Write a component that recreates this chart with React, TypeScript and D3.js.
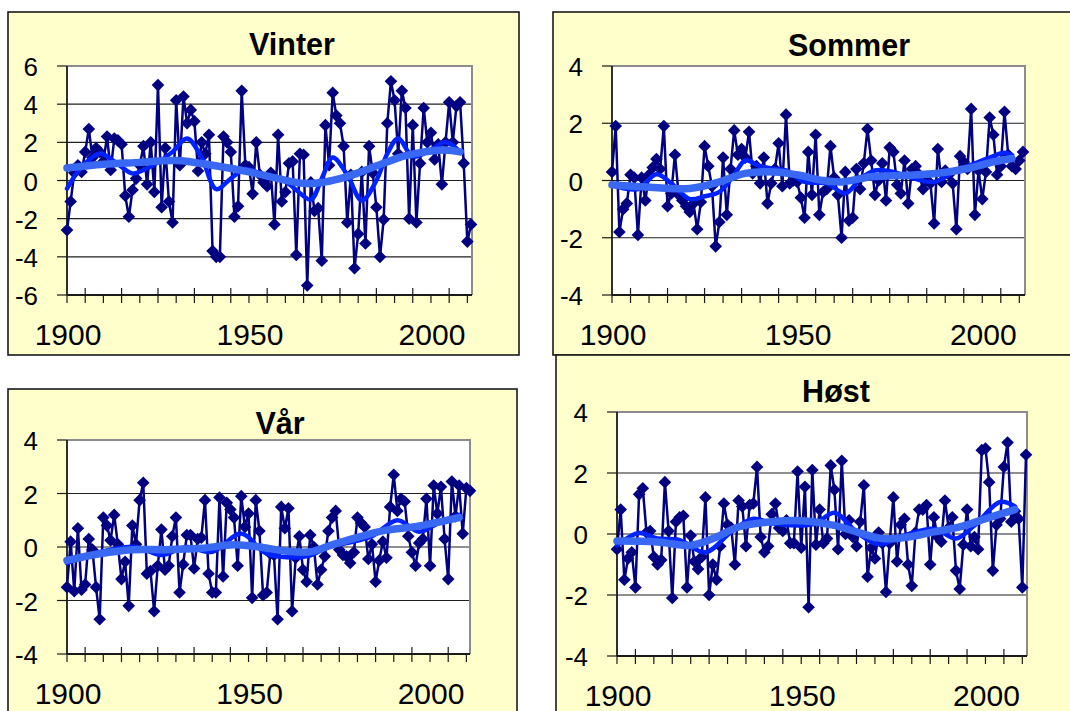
import React from 'react';
import * as d3 from 'd3';

// Seasonal temperature anomalies (°C), one value per year 1900–2011
const YEARS = d3.range(1900, 2012);

const vinter = [
  -2.6, -1.1, 0.4, 0.8, 0.45, 1.5, 2.7, 1.2, 1.7, 1.5,
  1.0, 2.3, 0.55, 2.2, 2.1, 1.9, -0.8, -1.9, -0.5, 0.1,
  0.8, 1.8, -0.2, 2.0, -0.6, 5.0, -1.4, 1.7, -1.1, -2.2,
  4.2, 0.8, 4.4, 3.0, 3.7, 3.1, 0.5, 2.0, 1.4, 2.4,
  -3.7, -4.0, -4.0, 2.3, 2.0, 1.5, -1.9, -1.35, 4.7, 0.8,
  0.7, -0.7, 2.0, 0.3, -0.1, -0.3, 0.4, -2.3, 2.4, -1.1,
  -0.6, 0.9, 1.0, -3.9, 1.4, 1.35, -5.5, -0.1, -1.6, -1.45,
  -4.2, 2.9, 0.8, 4.6, 3.4, 3.0, 1.8, -2.2, 0.3, -4.6,
  -2.8, 0.45, -3.3, 1.8, 0.4, -1.4, -4.0, -2.05, 3.0, 5.2,
  4.2, 1.4, 4.7, 3.8, -2.0, 2.9, -2.2, 0.9, 3.8, 2.0,
  2.5, 1.1, 1.9, -0.2, 2.0, 4.1, 2.0, 3.9, 4.1, 0.9,
  -3.2, -2.3,
];

const sommer = [
  0.3, 1.9, -1.8, -1.0, -0.8, 0.2, 0.1, -1.9, 0.1, -0.7,
  0.2, 0.45, 0.75, 0.4, 1.9, -0.9, -0.45, 0.9, -0.5, -0.7,
  -0.9, -1.1, -0.8, -1.7, -0.75, 1.2, 0.5, -0.2, -2.3, -1.45,
  0.8, -1.2, 0.4, 1.75, 0.9, 1.1, 0.8, 1.7, 0.25, 0.5,
  -0.1, 0.8, -0.8, -0.1, 0.4, 1.3, -0.2, 2.3, -0.1, 0.0,
  -0.05, -0.6, -1.3, 1.0, -0.5, 1.6, -1.2, -0.4, -0.3, 1.2,
  0.1, -0.5, -2.0, 0.3, -1.4, -1.3, 0.4, -0.3, 0.6, 1.8,
  0.7, -0.5, 0.0, 0.6, -0.7, 1.15, 1.0, -0.15, -0.45, 0.7,
  -0.8, 0.4, 0.5, 0.2, -0.3, 0.0, -0.1, -1.5, 1.1, -0.05,
  0.35, 0.2, -0.1, -1.7, 0.85, 0.65, 0.4, 2.5, -1.2, 0.35,
  -0.65, 0.3, 2.2, 1.6, 0.2, 0.5, 2.4, 0.9, 0.5, 0.4,
  0.7, 1.0,
];

const vaar = [
  -1.5, 0.2, -1.65, 0.7, -1.6, -1.4, 0.3, -0.1, -1.5, -2.7,
  1.1, 0.8, 0.25, 1.2, 0.1, -1.2, -0.55, -2.2, 0.8, 0.1,
  1.75, 2.4, -1.0, -0.9, -2.4, -0.7, 0.65, -0.85, -0.7, 0.4,
  1.1, -1.7, -0.65, 0.45, 0.45, -0.8, 0.3, 0.35, 1.75, -1.0,
  -1.7, -1.7, 1.85, -1.1, 1.65, 1.4, 1.1, -0.7, 1.9, 0.75,
  1.25, -1.9, 1.75, 0.6, -1.8, -1.7, -0.25, -0.3, -2.7, 1.5,
  0.7, 1.45, -2.4, -0.4, 0.4, -0.85, -1.3, 0.45, 0.0, -1.4,
  -0.85, -0.35, 0.6, 1.1, 1.35, -0.1, -0.3, -0.35, -0.6, -0.2,
  1.1, 0.9, 0.75, -0.45, 0.1, -1.3, -0.5, 0.2, -0.4, 1.5,
  2.7, 1.35, 1.8, 1.7, 0.4, -0.2, -0.7, 0.15, 0.3, 1.8,
  -0.7, 2.3, 1.25, 2.25, 0.3, -1.2, 2.45, 1.15, 2.3, 0.5,
  2.2, 2.1,
];

const hoest = [
  -0.5, 0.8, -1.5, -0.8, -0.6, -1.75, 1.3, 1.5, 0.05, 0.1,
  -0.75, -1.0, -0.85, 1.7, 0.1, -2.1, 0.4, 0.55, 0.6, -1.75,
  -0.05, -0.9, -1.15, -0.75, 1.2, -2.0, -1.0, -1.5, -0.4, 1.0,
  0.3, 0.2, -1.0, 1.1, 0.9, -0.4, 0.95, 1.0, 2.2, -0.1,
  -0.6, -0.4, 0.65, 1.0, 0.2, 0.1, 0.45, -0.3, -0.3, 2.05,
  -0.45, 1.55, -2.4, 2.1, -0.35, 0.8, -0.3, -0.15, 2.25, 1.45,
  -0.5, 2.4, 0.0, 0.45, -0.1, -0.4, 0.4, 1.6, -1.4, -0.45,
  -0.8, 0.05, -0.3, -1.9, -0.3, 1.2, -0.9, 0.3, 0.5, -1.0,
  -1.7, 0.05, 0.8, 0.8, 0.95, -1.0, 0.55, -0.1, -0.25, 1.1,
  0.2, 0.55, -1.2, -1.8, -0.35, 0.8, -0.4, -0.1, -0.5, 2.75,
  2.8, 1.7, -1.2, 0.3, 0.5, 2.2, 3.0, 0.4, 0.75, 0.5,
  -1.75, 2.6,
];

// Low-pass filtered curves: [year, value]
const vinterDecadal: [number, number][] = [
  [1900, -0.42], [1904, 0.7], [1909, 1.41], [1913, 1.0], [1918, 0.37], [1921, 0.55],
  [1925, 0.95], [1929, 1.5], [1933, 2.2], [1937, 1.2], [1941, -0.45], [1945, 0.1],
  [1949, 0.6], [1955, 0.2], [1960, -0.05], [1963, -0.5], [1967, -1.0], [1970, 0.1],
  [1973, 1.2], [1977, 0.3], [1981, -1.05], [1985, 0.0], [1988, 1.4], [1991, 2.2],
  [1995, 1.25], [1999, 1.5], [2004, 2.0], [2008, 1.5],
];
const vinterTrend: [number, number][] = [
  [1900, 0.65], [1910, 0.85], [1920, 0.95], [1930, 1.05], [1940, 0.8], [1950, 0.45],
  [1958, 0.1], [1965, -0.15], [1970, -0.1], [1975, 0.1], [1980, 0.4], [1987, 0.9],
  [1993, 1.3], [2000, 1.55], [2004, 1.6], [2008, 1.5],
];

const sommerDecadal: [number, number][] = [
  [1900, -0.15], [1907, -0.3], [1912, 0.22], [1916, -0.1], [1921, -0.65], [1925, -0.55],
  [1929, -0.4], [1933, 0.2], [1936, 0.7], [1940, 0.5], [1944, 0.4], [1947, 0.35],
  [1952, -0.05], [1958, -0.1], [1963, -0.45], [1967, 0.05], [1971, 0.35], [1976, 0.3],
  [1980, 0.13], [1987, -0.05], [1993, 0.35], [1998, 0.6], [2002, 0.8], [2006, 0.97],
  [2008, 0.88],
];
const sommerTrend: [number, number][] = [
  [1900, -0.15], [1908, -0.22], [1921, -0.28], [1929, -0.05], [1936, 0.25], [1944, 0.3],
  [1950, 0.2], [1957, 0.0], [1962, -0.05], [1970, 0.13], [1980, 0.18], [1988, 0.25],
  [1996, 0.42], [2003, 0.65], [2008, 0.77],
];

const vaarDecadal: [number, number][] = [
  [1900, -0.6], [1906, -0.3], [1912, -0.1], [1919, 0.0], [1926, -0.3], [1933, 0.0],
  [1940, -0.18], [1948, 0.5], [1955, -0.25], [1966, -0.35], [1972, 0.0], [1979, 0.2],
  [1984, 0.4], [1991, 1.0], [1997, 0.57], [2003, 0.95], [2008, 1.2],
];
const vaarTrend: [number, number][] = [
  [1900, -0.5], [1909, -0.25], [1918, -0.1], [1927, -0.1], [1937, -0.05], [1946, 0.08],
  [1953, 0.0], [1960, -0.15], [1967, -0.18], [1973, 0.08], [1981, 0.4], [1988, 0.63],
  [1996, 0.76], [2003, 0.95], [2008, 1.1],
];

const hoestDecadal: [number, number][] = [
  [1900, -0.37], [1906, 0.03], [1911, -0.15], [1917, -0.2], [1924, -0.6], [1931, 0.07],
  [1937, 0.5], [1942, 0.35], [1950, 0.28], [1954, 0.35], [1959, 0.7], [1965, 0.07],
  [1971, -0.34], [1978, -0.05], [1986, 0.17], [1992, -0.15], [1997, 0.28], [2004, 1.05],
  [2008, 0.9],
];
const hoestTrend: [number, number][] = [
  [1900, -0.23], [1911, -0.26], [1920, -0.37], [1926, -0.15], [1933, 0.23], [1942, 0.4],
  [1951, 0.43], [1959, 0.28], [1965, 0.07], [1972, -0.15], [1979, -0.1], [1986, 0.07],
  [1993, 0.23], [2000, 0.5], [2008, 0.8],
];

const YEAR_LABELS = [1900, 1950, 2000];

const FONT = '"Liberation Sans", Arial, sans-serif';
const NAVY = '#000080';
const DECADAL = '#0022FF';
const TREND = '#3868F4';

type Box = { x: number; y: number; w: number; h: number };
type Plot = { left: number; right: number; dataRight: number; top: number; bottom: number };

interface PanelProps {
  title: string;
  titleX: number;
  titleY: number;
  frame: Box;
  plot: Plot;
  yMax: number;
  values: number[];
  decadal: [number, number][];
  trend: [number, number][];
}

function Panel({ title, titleX, titleY, frame, plot, yMax, values, decadal, trend }: PanelProps) {
  const x = d3.scaleLinear().domain([1900, 2011]).range([plot.left, plot.dataRight]);
  const y = d3.scaleLinear().domain([-yMax, yMax]).range([plot.bottom, plot.top]);
  const yTicks = d3.range(-yMax, yMax + 0.001, 2);
  const majorTicks = d3.range(1900, 2011, 10);
  const minorTicks = d3.range(1905, 2011, 10);

  const pts = YEARS.map((yr, i) => [yr, values[i]] as [number, number]);
  const dataLine = d3.line<[number, number]>().x((d) => x(d[0])).y((d) => y(d[1]));
  const smooth = d3
    .line<[number, number]>()
    .x((d) => x(d[0]))
    .y((d) => y(d[1]))
    .curve(d3.curveCatmullRom.alpha(0.5));
  const diamond = d3.symbol(d3.symbolSquare, 80)() as string;

  return (
    <g>
      <rect x={frame.x} y={frame.y} width={frame.w} height={frame.h} fill="#FFFFCC" stroke="#1a1a1a" strokeWidth={1.6} />
      <rect x={plot.left} y={plot.top} width={plot.right - plot.left} height={plot.bottom - plot.top} fill="#FFFFFF" />
      {yTicks
        .filter((v) => v > -yMax && v < yMax)
        .map((v) => (
          <line key={'g' + v} x1={plot.left} x2={plot.right} y1={y(v)} y2={y(v)} stroke="#202020" strokeWidth={1.2} />
        ))}
      {/* plot-area border */}
      <path
        d={`M${plot.left},${plot.top}H${plot.right}V${plot.bottom}`}
        fill="none"
        stroke="#8c8c8c"
        strokeWidth={2}
      />
      {/* axes */}
      <line x1={plot.left} x2={plot.left} y1={plot.top} y2={plot.bottom} stroke="#1a1a1a" strokeWidth={1.8} />
      <line x1={plot.left} x2={plot.right} y1={plot.bottom} y2={plot.bottom} stroke="#1a1a1a" strokeWidth={1.8} />
      {yTicks.map((v) => (
        <g key={'yt' + v}>
          <line x1={plot.left - 10} x2={plot.left} y1={y(v)} y2={y(v)} stroke="#1a1a1a" strokeWidth={1.2} />
          <text x={plot.left - 29} y={y(v) + 10} textAnchor="end" fontFamily={FONT} fontSize={26} fill="#000">
            {v}
          </text>
        </g>
      ))}
      {majorTicks.map((t) => (
        <line key={'mx' + t} x1={x(t)} x2={x(t)} y1={plot.bottom} y2={plot.bottom + 8} stroke="#1a1a1a" strokeWidth={1.2} />
      ))}
      {minorTicks.map((t) => (
        <line key={'nx' + t} x1={x(t)} x2={x(t)} y1={plot.bottom - 7} y2={plot.bottom + 8} stroke="#1a1a1a" strokeWidth={1.2} />
      ))}
      {YEAR_LABELS.map((t) => (
        <text key={'xl' + t} x={x(t) + 1} y={plot.bottom + 50} textAnchor="middle" fontFamily={FONT} fontSize={30} fill="#000">
          {t}
        </text>
      ))}
      <path d={dataLine(pts) as string} fill="none" stroke={NAVY} strokeWidth={2.5} strokeLinejoin="round" />
      {pts.map((p) => (
        <path key={'m' + p[0]} d={diamond} transform={`translate(${x(p[0])},${y(p[1])}) rotate(45)`} fill={NAVY} />
      ))}
      <path d={smooth(decadal) as string} fill="none" stroke={DECADAL} strokeWidth={4.5} strokeLinecap="round" />
      <path d={smooth(trend) as string} fill="none" stroke={TREND} strokeWidth={7.5} strokeLinecap="round" />
      <text x={titleX} y={titleY} textAnchor="middle" fontFamily={FONT} fontSize={30.5} fontWeight="bold" fill="#000">
        {title}
      </text>
    </g>
  );
}

export default function App() {
  return (
    <div style={{ position: 'absolute', left: 0, top: 0, width: 1070, height: 711, overflow: 'hidden', background: '#fff' }}>
      <svg width={1070} height={711} style={{ display: 'block' }}>
        <Panel
          title="Vinter"
          titleX={292}
          titleY={55}
          frame={{ x: 8, y: 12, w: 511, h: 343 }}
          plot={{ left: 67, right: 472, dataRight: 471, top: 66, bottom: 295 }}
          yMax={6}
          values={vinter}
          decadal={vinterDecadal}
          trend={vinterTrend}
        />
        <Panel
          title="Sommer"
          titleX={849}
          titleY={56}
          frame={{ x: 553, y: 12, w: 530, h: 343 }}
          plot={{ left: 612, right: 1025, dataRight: 1023, top: 66, bottom: 295 }}
          yMax={4}
          values={sommer}
          decadal={sommerDecadal}
          trend={sommerTrend}
        />
        <Panel
          title="Vår"
          titleX={280}
          titleY={434}
          frame={{ x: 8, y: 389, w: 509, h: 340 }}
          plot={{ left: 67, right: 470, dataRight: 470, top: 440, bottom: 654 }}
          yMax={4}
          values={vaar}
          decadal={vaarDecadal}
          trend={vaarTrend}
        />
        <Panel
          title="Høst"
          titleX={836}
          titleY={402}
          frame={{ x: 556, y: 355, w: 530, h: 370 }}
          plot={{ left: 617, right: 1027, dataRight: 1026, top: 412, bottom: 656 }}
          yMax={4}
          values={hoest}
          decadal={hoestDecadal}
          trend={hoestTrend}
        />
      </svg>
    </div>
  );
}
